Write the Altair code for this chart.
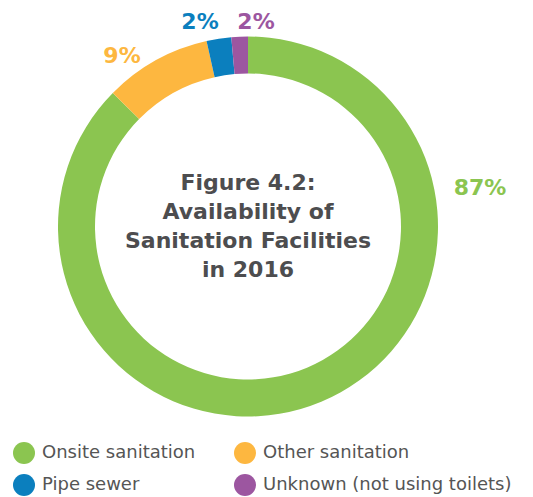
import altair as alt
import pandas as pd

categories = ["Onsite sanitation", "Other sanitation", "Pipe sewer", "Unknown (not using toilets)"]
values = [87.4, 9.1, 2.1, 1.4]
labels = ["87%", "9%", "2%", "2%"]
colors = ["#8bc550", "#fdb740", "#0b7fbe", "#9c56a0"]
title_lines = ["Figure 4.2:", "Availability of", "Sanitation Facilities", "in 2016"]

df = pd.DataFrame({"cat": categories, "val": values, "idx": list(range(len(categories)))})

FONT = "DejaVu Sans"
CX, CY = 240, 208.5

# legend fills column by column: order domain so rows read Onsite/Other, Pipe/Unknown
legend_order = [categories[0], categories[2], categories[1], categories[3]]
legend_colors = [colors[0], colors[2], colors[1], colors[3]]
color_scale = alt.Scale(domain=legend_order, range=legend_colors)

donut = alt.Chart(df).mark_arc(outerRadius=190, innerRadius=153).encode(
    theta=alt.Theta("val:Q", stack=True),
    order=alt.Order("idx:Q"),
    color=alt.Color(
        "cat:N",
        scale=color_scale,
        legend=alt.Legend(
            title=None,
            orient="none",
            legendX=5,
            legendY=424,
            columns=2,
            symbolType="circle",
            symbolSize=484,
            symbolStrokeWidth=0,
            labelFontSize=18,
            labelFont=FONT,
            labelColor="#555555",
            labelOffset=7,
            labelLimit=400,
            rowPadding=10,
            columnPadding=38,
            padding=0,
        ),
    ),
    x=alt.value(CX),
    y=alt.value(CY),
)

# percentage label placements (annotation positions)
label_pos = [(472, 177), (114, 45), (192, 11), (248, 11)]
layers = [donut]
for (lx, ly), txt, col in zip(label_pos, labels, colors):
    layers.append(
        alt.Chart(pd.DataFrame({"t": [txt]})).mark_text(
            font=FONT, fontSize=22, fontWeight="bold", color=col,
            align="center", baseline="alphabetic",
        ).encode(text="t:N", x=alt.value(lx), y=alt.value(ly))
    )

title = alt.Chart(pd.DataFrame({"t": ["title"]})).mark_text(
    font=FONT, fontSize=22, fontWeight="bold", color="#4d4d4f",
    align="center", baseline="alphabetic", lineHeight=29,
).encode(text=alt.value(title_lines), x=alt.value(CX), y=alt.value(172))
layers.append(title)

chart = alt.layer(*layers).properties(
    width=517, height=479,
    autosize=alt.AutoSizeParams(type="none"),
    padding={"left": 0, "top": 10, "right": 0, "bottom": 0},
).configure_view(stroke=None)

chart.save("out.html", embed_options={"renderer": "svg", "actions": False})
